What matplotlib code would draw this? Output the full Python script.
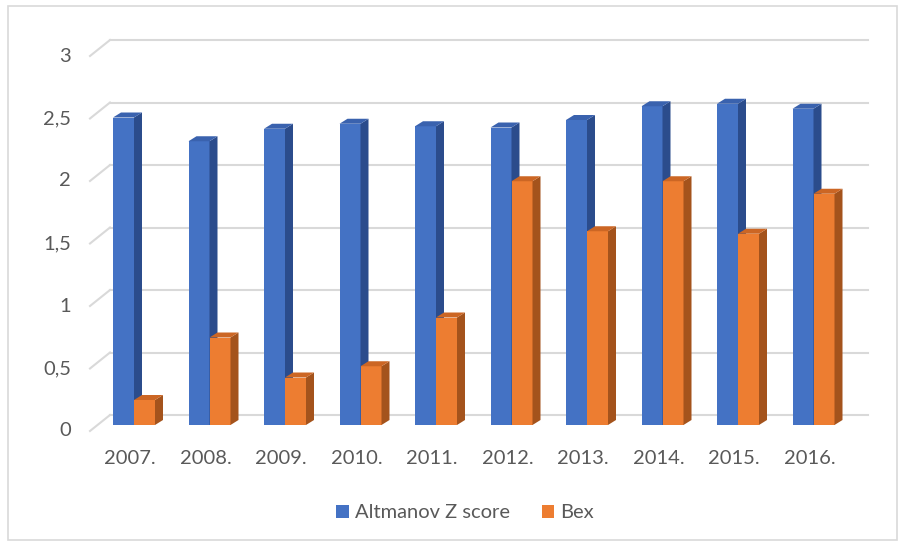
import matplotlib.pyplot as plt
from matplotlib.patches import Polygon, Rectangle

years = ["2007.", "2008.", "2009.", "2010.", "2011.",
         "2012.", "2013.", "2014.", "2015.", "2016."]
altman_z = [2.46, 2.27, 2.37, 2.41, 2.39, 2.38, 2.44, 2.55, 2.57, 2.53]
bex = [0.20, 0.70, 0.38, 0.47, 0.86, 1.95, 1.55, 1.95, 1.53, 1.85]
y_ticks = [0, 0.5, 1, 1.5, 2, 2.5, 3]
y_tick_labels = ["0", "0,5", "1", "1,5", "2", "2,5", "3"]

# layout: pixel geometry of the fake 3d excel chart
W, H = 900, 544
X0, STEP = 134, 75.5     # px of first cluster center, px per category
Y0, UNIT = 425, 125      # px of value 0 at bar plane, px per unit


def px_x(p):
    return (p - X0) / STEP


def px_v(p):
    return (Y0 - p) / UNIT


BAR_W = 21 / STEP
DX, DY = 8 / STEP, 5 / UNIT          # bar depth
WALL_DY = 10 / UNIT                  # back wall above bar plane
FRONT_DY = -6 / UNIT                 # front edge below bar plane

plt.rcParams['font.family'] = ['Lato', 'DejaVu Sans']
TXT = '#595959'
GRID = '#d9d9d9'
FS = 14.5

series = [
    (altman_z, 'Altmanov Z score', '#4472C4', '#2B4C8C', '#3A62AE'),
    (bex, 'Bex', '#ED7D31', '#A4531C', '#CC6624'),
]

fig = plt.figure(figsize=(W / 100, H / 100), dpi=100)
ax = fig.add_axes([0, 0, 1, 1])
ax.set_xlim(px_x(0), px_x(W))
ax.set_ylim(px_v(H), px_v(0))
ax.axis('off')

# back wall gridlines + left diagonal edges
for v, lab in zip(y_ticks, y_tick_labels):
    ax.plot([px_x(110), px_x(868)], [v + WALL_DY, v + WALL_DY],
            color=GRID, lw=1.5, zorder=1)
    ax.plot([px_x(90), px_x(110)], [v + FRONT_DY, v + WALL_DY],
            color=GRID, lw=1.5, zorder=1)
    ax.text(px_x(71), v + FRONT_DY, lab, ha='right', va='center',
            fontsize=FS, color=TXT)

xs = list(range(len(years)))
handles = []
for k, (vals, name, front, side, top) in enumerate(series):
    off = (k - 0.5) * BAR_W
    bars = ax.bar([x + off for x in xs], vals, width=BAR_W, color=front,
                  zorder=3 + 2 * k, label=name)
    handles.append(bars)
    for b in bars:
        l = b.get_x()
        r = l + b.get_width()
        h = b.get_height()
        ax.add_patch(Polygon([(r, 0), (r, h), (r + DX, h + DY), (r + DX, DY)],
                             closed=True, fc=side, ec='none', zorder=3 + 2 * k))
        ax.add_patch(Polygon([(l, h), (r, h), (r + DX, h + DY), (l + DX, h + DY)],
                             closed=True, fc=top, ec='none', zorder=3 + 2 * k))

for x, lab in zip(xs, years):
    ax.text(x - 0.05, px_v(458), lab, ha='center', va='center',
            fontsize=FS, color=TXT)

fig.legend(handles=handles, loc='center', bbox_to_anchor=(465 / W, 1 - 513 / H),
           ncol=2, frameon=False, fontsize=FS, labelcolor=TXT,
           handlelength=0.6, handleheight=0.6, handletextpad=0.3,
           columnspacing=1.6)

fig.patches.append(Rectangle((8 / W, 4 / H), 889 / W, 534 / H,
                             transform=fig.transFigure, fill=False,
                             ec=GRID, lw=1.2))

fig.savefig('out.png', dpi=100)
